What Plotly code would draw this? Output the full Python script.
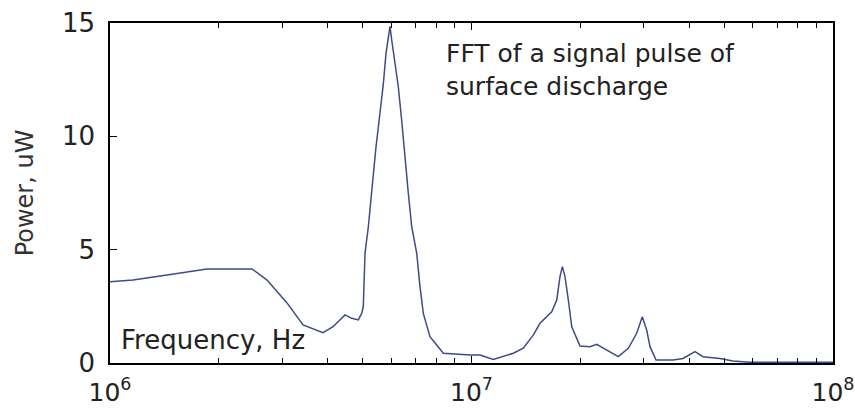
import plotly.graph_objects as go

# Frequency (Hz) and power (uW)
freq_hz = [1.000e6, 1.158e6, 1.438e6, 1.855e6, 2.471e6, 2.719e6, 3.088e6, 3.420e6,
           3.884e6, 4.140e6, 4.468e6, 4.662e6, 4.863e6, 4.969e6, 5.020e6, 5.075e6,
           5.183e6, 5.263e6, 5.351e6, 5.443e6, 5.524e6, 5.608e6, 5.702e6, 5.801e6,
           5.886e6, 5.951e6, 6.016e6, 6.143e6, 6.273e6, 6.410e6, 6.546e6, 6.687e6,
           6.834e6, 7.055e6, 7.203e6, 7.357e6, 7.677e6, 8.356e6, 9.906e6, 1.056e7,
           1.149e7, 1.305e7, 1.391e7, 1.483e7, 1.547e7, 1.667e7, 1.721e7, 1.757e7,
           1.784e7, 1.814e7, 1.853e7, 1.894e7, 1.996e7, 2.127e7, 2.220e7, 2.366e7,
           2.547e7, 2.715e7, 2.864e7, 2.968e7, 3.052e7, 3.117e7, 3.239e7, 3.610e7,
           3.846e7, 4.153e7, 4.370e7, 4.869e7, 5.289e7, 5.893e7, 1.0e8]
power_uw = [3.59, 3.66, 3.88, 4.15, 4.15, 3.66, 2.65, 1.68,
            1.34, 1.60, 2.12, 1.97, 1.90, 2.19, 2.48, 4.85,
            6.0, 7.2, 8.5, 9.54, 10.4, 11.3, 12.3, 13.66,
            14.25, 14.85, 14.25, 13.2, 12.2, 10.7, 8.95, 7.49,
            6.0, 4.84, 3.37, 2.19, 1.16, 0.43, 0.35, 0.35,
            0.16, 0.43, 0.65, 1.24, 1.75, 2.26, 2.78, 3.81,
            4.25, 3.81, 2.78, 1.6, 0.75, 0.72, 0.82, 0.57,
            0.28, 0.65, 1.31, 2.04, 1.46, 0.72, 0.13, 0.13,
            0.2, 0.5, 0.28, 0.2, 0.09, 0.03, 0.03]

x_major = [1e6, 1e7, 1e8]
x_major_labels = ["10<sup>6</sup>", "10<sup>7</sup>", "10<sup>8</sup>"]
x_minor = [m * d for d in (1e6, 1e7) for m in range(2, 10)]
y_ticks = [0, 5, 10, 15]

fig = go.Figure()
fig.add_trace(go.Scatter(x=freq_hz, y=power_uw, mode="lines",
                         line=dict(color="#3f4a86", width=1.5, shape="linear"),
                         showlegend=False))

font = "DejaVu Sans, Arial, sans-serif"
fig.update_layout(
    width=855, height=412,
    margin=dict(l=110, r=22, t=23, b=49),
    paper_bgcolor="white", plot_bgcolor="white",
    font=dict(family=font, color="#222"),
    xaxis=dict(type="log", range=[6, 8], tickvals=x_major, ticktext=x_major_labels,
               ticks="inside", ticklen=7, tickcolor="black", showgrid=False,
               zeroline=False, showline=True, linecolor="black", linewidth=1.5,
               mirror="ticks", automargin=False, ticklabelstandoff=6,
               tickfont=dict(size=25, color="#222"),
               minor=dict(tickvals=x_minor, ticks="inside", ticklen=5,
                          tickcolor="black", showgrid=False)),
    yaxis=dict(range=[0, 15], tickvals=y_ticks, ticks="inside", ticklen=7,
               tickcolor="black", showgrid=False, zeroline=False, showline=True,
               linecolor="black", linewidth=1.5, mirror=True, automargin=False,
               ticklabelstandoff=8, tickfont=dict(size=26, color="#222"),
               title=dict(text="Power, uW", font=dict(size=24, color="#333"), standoff=22)),
    annotations=[
        dict(text="Frequency, Hz", xref="paper", yref="paper", x=0.013, y=0.018,
             xanchor="left", yanchor="bottom", showarrow=False,
             font=dict(size=26, color="#222")),
        dict(text="FFT of a signal pulse of<br>surface discharge", xref="paper",
             yref="paper", x=0.462, y=0.96, xanchor="left", yanchor="top",
             align="left", showarrow=False, font=dict(size=25, color="#222")),
    ],
)

fig.write_html("out.html", config={"displayModeBar": False},
               post_script="document.body.style.margin='0';")
